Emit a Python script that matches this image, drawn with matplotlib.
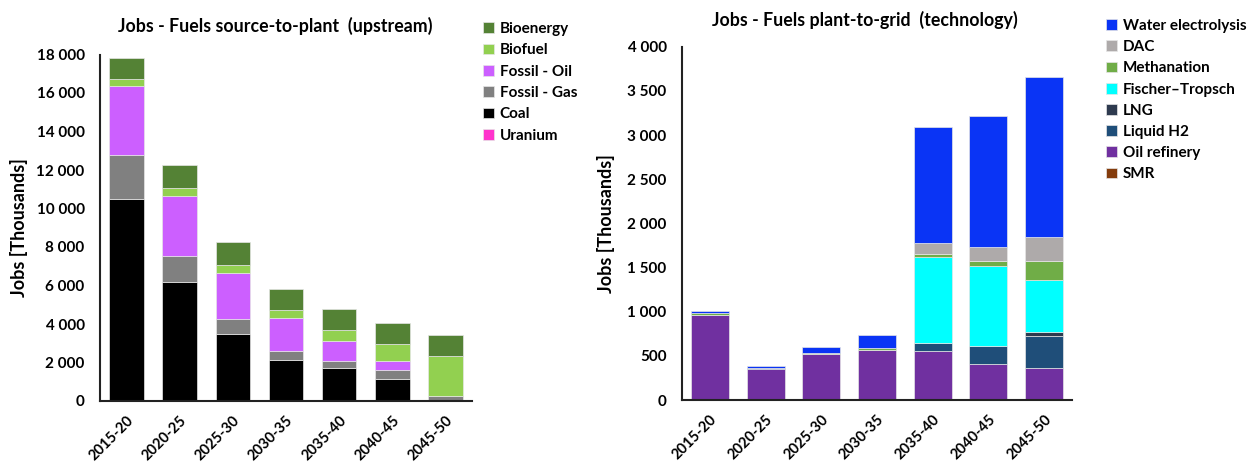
import numpy as np
import matplotlib.pyplot as plt

periods = ['2015-20', '2020-25', '2025-30', '2030-35', '2035-40', '2040-45', '2045-50']

# upstream (source-to-plant), thousands of jobs
uranium = [0, 0, 0, 0, 0, 0, 0]
coal = [10500, 6200, 3500, 2150, 1730, 1120, 30]
gas = [2300, 1350, 750, 450, 370, 470, 230]
oil = [3580, 3100, 2400, 1700, 1020, 470, 0]
biofuel = [330, 430, 430, 430, 570, 920, 2080]
bioenergy = [1090, 1160, 1200, 1100, 1090, 1050, 1110]

# plant-to-grid (technology), thousands of jobs
smr = [0, 0, 0, 0, 0, 0, 0]
oil_refinery = [965, 355, 520, 565, 560, 410, 365]
liquid_h2 = [0, 5, 0, 5, 80, 200, 360]
lng = [0, 0, 0, 0, 0, 0, 40]
fischer = [0, 0, 0, 0, 980, 910, 595]
methanation = [15, 5, 10, 15, 30, 55, 210]
dac = [10, 0, 5, 5, 130, 160, 270]
electrolysis = [15, 25, 60, 145, 1310, 1480, 1820]

left_series = [('Uranium', uranium, '#ff33cc'),
               ('Coal', coal, '#000000'),
               ('Fossil - Gas', gas, '#808080'),
               ('Fossil - Oil', oil, '#cc5fff'),
               ('Biofuel', biofuel, '#92d050'),
               ('Bioenergy', bioenergy, '#548235')]

right_series = [('SMR', smr, '#843c0c'),
                ('Oil refinery', oil_refinery, '#7030a0'),
                ('Liquid H2', liquid_h2, '#1f4e79'),
                ('LNG', lng, '#2e3a4f'),
                ('Fischer\u2013Tropsch', fischer, '#00ffff'),
                ('Methanation', methanation, '#70ad47'),
                ('DAC', dac, '#aeaaaa'),
                ('Water electrolysis', electrolysis, '#0a34f5')]

plt.rcParams['font.family'] = ['Lato', 'DejaVu Sans']
plt.rcParams['font.weight'] = 'bold'
plt.rcParams['font.size'] = 11

W, H = 1258, 466
fig = plt.figure(figsize=(W / 100, H / 100), dpi=100)


def px_axes(x0, x1, ytop, ybot):
    return fig.add_axes([x0 / W, (H - ybot) / H, (x1 - x0) / W, (ybot - ytop) / H])


def draw(ax, series, ymax, step, title, width, title_y):
    x = np.arange(len(periods))
    bottom = np.zeros(len(periods))
    handles = []
    for name, vals, col in series:
        b = ax.bar(x, vals, width, bottom=bottom, color=col, label=name,
                   edgecolor='#e6e6e6', linewidth=0.5)
        bottom += np.array(vals)
        handles.append(b)
    ax.set_xlim(-0.5, len(periods) - 0.5)
    ax.set_ylim(0, ymax)
    yt = np.arange(0, ymax + 1, step)
    ax.set_yticks(yt)
    ax.set_yticklabels([f'{v:,}'.replace(',', ' ') for v in yt])
    ax.set_xticks(x)
    ax.set_xticklabels(periods, rotation=45, ha='right', rotation_mode='anchor',
                       fontsize=10.5)
    ax.tick_params(axis='y', length=0, pad=11)
    ax.tick_params(axis='x', length=0, pad=9)
    for s in ['top', 'right']:
        ax.spines[s].set_visible(False)
    for s in ['left', 'bottom']:
        ax.spines[s].set_color('#222222')
        ax.spines[s].set_linewidth(1.5)
    ax.set_title(title, fontsize=12.8, fontweight='bold', pad=0, y=title_y)
    ax.set_ylabel('Jobs [Thousands]', fontweight='bold', fontsize=13)
    return handles


ax1 = px_axes(100, 472, 54.5, 401)
h1 = draw(ax1, left_series, 18000, 2000, 'Jobs - Fuels source-to-plant  (upstream)', 0.65, 1.065)
ax1.title.set_x(0.47)
ax1.yaxis.set_label_coords(-0.194, 0.5)
ax1.legend(h1[::-1], [s[0] for s in left_series][::-1], loc='upper left',
           bbox_to_anchor=(483 / W, 1 - 22 / H), bbox_transform=fig.transFigure,
           frameon=False, handlelength=0.7, handleheight=0.7, handletextpad=0.4,
           labelspacing=0.48, borderpad=0, borderaxespad=0)

ax2 = px_axes(682, 1072, 46.7, 400)
h2 = draw(ax2, right_series, 4000, 500, 'Jobs - Fuels plant-to-grid  (technology)', 0.68, 1.06)
ax2.title.set_x(0.47)
ax2.yaxis.set_label_coords(-0.172, 0.5)
ax2.legend(h2[::-1], [s[0] for s in right_series][::-1], loc='upper left',
           bbox_to_anchor=(1106 / W, 1 - 19 / H), bbox_transform=fig.transFigure,
           frameon=False, handlelength=0.7, handleheight=0.7, handletextpad=0.4,
           labelspacing=0.47, borderpad=0, borderaxespad=0)

plt.savefig('out.png', dpi=100)
